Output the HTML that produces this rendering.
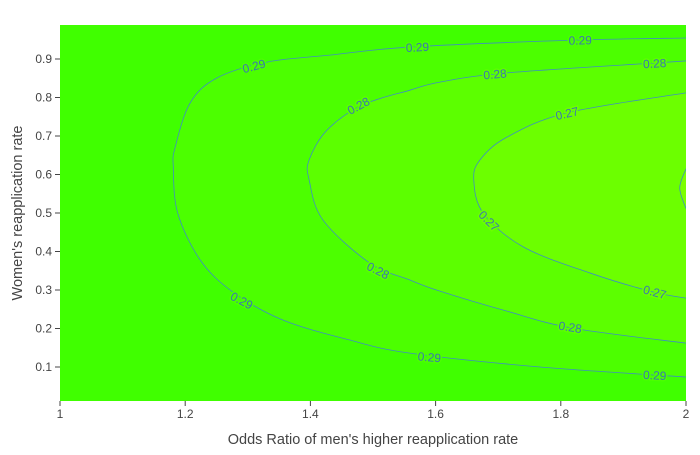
<!DOCTYPE html>
<html><head><meta charset="utf-8"><style>
body{margin:0;background:#fff;font-family:"Liberation Sans",sans-serif}
</style></head><body>
<svg id="chart" width="700" height="450" xmlns="http://www.w3.org/2000/svg"></svg>
<script>
// contour levels and their traced points [oddsRatio, womenRate]
const levels = [0.29, 0.28, 0.27, 0.26];
const fillColors = ["#4cff00", "#5cff00", "#6cff00", "#7cff00"];
const outerColor = "#40ff00";
const contour029 = [[2,0.9545],[1.821,0.949],[1.559,0.931],[1.431,0.910],[1.331,0.892],[1.251,0.851],[1.208,0.786],[1.184,0.671],[1.181,0.619],[1.188,0.500],[1.224,0.378],[1.276,0.295],[1.356,0.222],[1.463,0.170],[1.559,0.136],[1.767,0.100],[2,0.074]];
const contour028 = [[2,0.895],[1.954,0.890],[1.714,0.864],[1.607,0.840],[1.559,0.819],[1.484,0.781],[1.427,0.716],[1.398,0.638],[1.398,0.586],[1.420,0.482],[1.495,0.370],[1.559,0.326],[1.607,0.297],[1.714,0.245],[1.819,0.201],[2,0.162]];
const contour027 = [[2,0.812],[1.810,0.760],[1.714,0.697],[1.671,0.638],[1.661,0.586],[1.676,0.500],[1.740,0.412],[1.847,0.344],[1.947,0.295],[2,0.279]];
const contour026 = [[2.001,0.618],[1.99,0.565],[2.001,0.508]];
const contours = [contour029, contour028, contour027, contour026];
const labelPts = [
 [[1.310,0.881,-15],[1.571,0.930,-3],[1.831,0.948,-1],[1.290,0.272,28],[1.590,0.125,5],[1.950,0.078,3]],
 [[1.477,0.778,-28],[1.695,0.860,-5],[1.950,0.888,-3],[1.508,0.350,27],[1.815,0.203,9]],
 [[1.810,0.758,-13],[1.685,0.479,45],[1.950,0.294,15]],
 []
];
const xTicks=[1,1.2,1.4,1.6,1.8,2];
const yTicks=[0.1,0.2,0.3,0.4,0.5,0.6,0.7,0.8,0.9];

const L=60,R=686,T=25,B=401;
const sx=v=>L+(v-1)*(R-L);
const sy=v=>405.5-v*385;
const svg=document.getElementById('chart');
const NS="http://www.w3.org/2000/svg";
function mk(t,a,p){const e=document.createElementNS(NS,t);for(const k in a)e.setAttribute(k,a[k]);(p||svg).appendChild(e);return e;}
function smooth(pts){
 let d="M"+pts[0][0]+","+pts[0][1];
 for(let i=0;i<pts.length-1;i++){
  const p0=pts[Math.max(i-1,0)],p1=pts[i],p2=pts[i+1],p3=pts[Math.min(i+2,pts.length-1)];
  const c1=[p1[0]+(p2[0]-p0[0])/6,p1[1]+(p2[1]-p0[1])/6],c2=[p2[0]-(p3[0]-p1[0])/6,p2[1]-(p3[1]-p1[1])/6];
  d+=" C"+c1+" "+c2+" "+p2;
 }
 return d;
}
mk('defs',{}).innerHTML='<clipPath id="pc"><rect x="60" y="25" width="626" height="376"/></clipPath>';
const bg=mk('rect',{x:L,y:T,width:R-L,height:B-T,fill:outerColor});


const g=mk('g',{'clip-path':'url(#pc)'});


contours.forEach((c,i)=>{
 const pts=c.map(p=>[sx(p[0]),sy(p[1])]);
 const p=mk('path',{d:smooth(pts)+" L700,"+pts[pts.length-1][1]+" L700,"+pts[0][1]+"Z",fill:fillColors[i]},g);
 
 
});
contours.forEach((c,i)=>{
 const pts=c.map(p=>[sx(p[0]),sy(p[1])]);
 const p=mk('path',{d:smooth(pts),fill:'none',stroke:'#3f8fbf','stroke-width':0.8},g);
 
 
 labelPts[i].forEach(lp=>{
  const x=sx(lp[0]),y=sy(lp[1]);
  const t=mk('text',{x:x,y:y+4,'font-size':12,fill:'#3a78b0','text-anchor':'middle',transform:`rotate(${lp[2]} ${x} ${y})`,stroke:fillColors[i],'stroke-width':3,'paint-order':'stroke'},g);
  
  
  t.textContent=levels[i].toFixed(2);
 });
});
xTicks.forEach(v=>{
 mk('line',{x1:sx(v),x2:sx(v),y1:B,y2:B+5,stroke:'#444'});
 const t=mk('text',{x:sx(v),y:B+17,'font-size':12,fill:'#444','text-anchor':'middle'});
 
 
 t.textContent=v;
});
yTicks.forEach(v=>{
 mk('line',{x1:L-5,x2:L,y1:sy(v),y2:sy(v),stroke:'#444'});
 const t=mk('text',{x:L-8,y:sy(v)+4,'font-size':12,fill:'#444','text-anchor':'end'});
 
 
 t.textContent=v;
});
const xt=mk('text',{x:373,y:444,'font-size':14.5,fill:'#444','text-anchor':'middle'});


xt.textContent="Odds Ratio of men's higher reapplication rate";
const yt=mk('text',{x:22,y:213,'font-size':14.5,fill:'#444','text-anchor':'middle',transform:'rotate(-90 22 213)'});


yt.textContent="Women's reapplication rate";
</script>
</body></html>
